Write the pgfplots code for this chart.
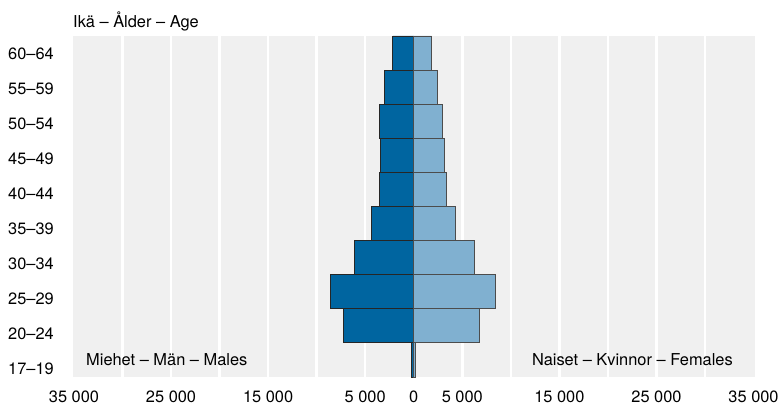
\documentclass[border=0pt]{standalone}
\usepackage{pgfplots}
\pgfplotsset{compat=1.18}
\usepackage{fontspec}
\setmainfont{TeX Gyre Heros}
\definecolor{male}{RGB}{0,101,160}
\definecolor{female}{RGB}{128,176,208}
\definecolor{panel}{RGB}{240,240,240}
\begin{document}
\fontsize{16.4}{19}\selectfont
\begin{tikzpicture}
\useasboundingbox (0,0) rectangle (780pt,408pt);
\begin{axis}[
  at={(73pt,31pt)}, anchor=south west,
  scale only axis, width=682pt, height=341pt,
  xmin=-35100, xmax=35150,
  ymin=-0.5, ymax=9.5,
  axis background/.style={fill=panel},
  axis line style={draw=none},
  major tick length=0pt,
  xtick={-30000,-25000,-20000,-15000,-10000,-5000,0,5000,10000,15000,20000,25000,30000},
  xticklabels={,25 000,,15 000,,5 000,0,5 000,,15 000,,25 000,},
  extra x ticks={-35000,35000},
  extra x tick labels={35 000,35 000},
  extra x tick style={grid=none},
  xmajorgrids,
  grid style={white, line width=2.5pt},
  ytick={-0.263,0.763,1.789,2.816,3.842,4.868,5.895,6.921,7.947,8.974},
  yticklabels={17–19,20–24,25–29,30–34,35–39,40–44,45–49,50–54,55–59,60–64},
  ymajorgrids=false,
  xticklabel style={font=\fontsize{16.4}{19}\selectfont, inner sep=0pt, anchor=north, yshift=-14pt},
  yticklabel style={font=\fontsize{16.4}{19}\selectfont, inner sep=0pt, anchor=east, xshift=-19pt},
  tick label style={/pgf/number format/assume math mode=true},
  xbar, bar width=1, bar shift=0pt,
  clip=false,
]
\addplot[fill=male, draw=black!85, line width=0.9pt] coordinates {
 (-200,0) (-7210,1) (-8620,2) (-6120,3) (-4330,4) (-3500,5) (-3400,6) (-3540,7) (-3060,8) (-2160,9)};
\addplot[fill=female, draw=black!70, line width=0.9pt] coordinates {
 (150,0) (6730,1) (8450,2) (6210,3) (4300,4) (3400,5) (3150,6) (3000,7) (2470,8) (1850,9)};
\node[anchor=west, inner sep=0pt, font=\fontsize{16.4}{19}\selectfont] at (axis cs:-33760,0) {Miehet – Män – Males};
\node[anchor=east, inner sep=0pt, font=\fontsize{16.4}{19}\selectfont] at (axis cs:32880,0) {Naiset – Kvinnor – Females};
\node[anchor=south west, inner sep=0pt, font=\fontsize{16.4}{19}\selectfont] at ([yshift=5pt]rel axis cs:0,1) {Ikä – Ålder – Age};
\end{axis}
\end{tikzpicture}
\end{document}
